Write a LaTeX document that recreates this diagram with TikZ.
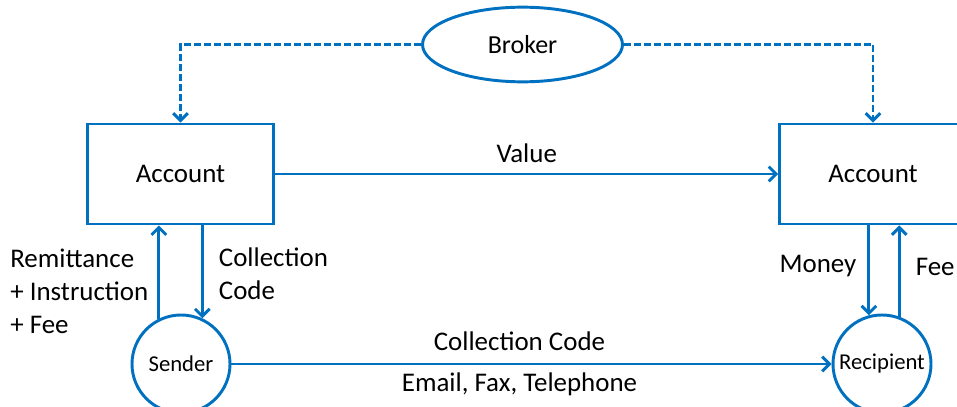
\documentclass[tikz,border=0pt]{standalone}
\usepackage{fontspec}
\setmainfont{Carlito}
\usepackage{xcolor}
\usepackage{tikz}
\usetikzlibrary{calc}
\usetikzlibrary{arrows.meta}
\usetikzlibrary{shapes.geometric}
\definecolor{flowblue}{RGB}{0,112,192}

\begin{document}
\begin{tikzpicture}[x = .75pt, y = -.75pt,
  >={Straight Barb[length=5.5pt, width=11pt]},
  link/.style = {flowblue, line width = 2.2pt, ->},
  acct/.style = {draw = flowblue, line width = 2.2pt, minimum width = 140pt,
    minimum height = 75pt, font = \fontsize{20.2}{24.75}\selectfont},
  party/.style = {draw = flowblue, line width = 2.2pt, shape = circle,
    minimum size = 73.5pt, inner sep = 0pt, font = \fontsize{17}{20}\selectfont},
  lbl/.style = {text = black, align = left, font = \fontsize{20.2}{24.75}\selectfont}]
  \useasboundingbox (0,0) rectangle (957,407);

% parties
  \node[draw = flowblue, line width = 2.2pt, shape = ellipse, minimum width = 150pt,
    minimum height = 56pt, font = \fontsize{19.5}{24}\selectfont] (broker) at (522.5,44.5) {Broker};
  \node[acct] (accSend) at (180.5,174) {Account};
  \node[acct] (accRecv) at (873,174) {Account};
  \node[party] (sender) at (181,364) {Sender};
  \node[party] (recip) at (882,364) {Recipient};

% broker
  \draw[link, dash pattern = on 5pt off 2.5pt] (broker.west) -| (accSend.north);
  \draw[link, dash pattern = on 5pt off 2.5pt] (broker.east) -| (accRecv.north);

% value
  \draw[link] (accSend.east) -- (accRecv.west)
    node[lbl, midway, above = 4pt] (valueLbl) {Value};

% sender side
  \draw[link] (sender.116) -- (sender.116 |- accSend.south)
    node[lbl, pos = .29, left = 3.5pt] (remitLbl) {Remittance\\+ Instruction\\+ Fee};
  \draw[link] (accSend.south -| sender.65) -- (sender.65)
    node[lbl, pos = .52, right = 8pt] (codeLbl) {Collection\\Code};

% recipient side
  \draw[link] (accRecv.south -| recip.105) -- (recip.105)
    node[lbl, pos = .45, left = 5pt] (moneyLbl) {Money};
  \draw[link] (recip.70) -- (recip.70 |- accRecv.south)
    node[lbl, pos = .55, right = 8pt] (feeLbl) {Fee};

% code
  \draw[link] (sender.east) -- (recip.west)
    node[lbl, pos = .48, above = 5.5pt] (codeTopLbl) {Collection Code}
    node[lbl, pos = .48, below = 2pt] (mediaLbl) {Email, Fax, Telephone};

\end{tikzpicture}
\end{document}
